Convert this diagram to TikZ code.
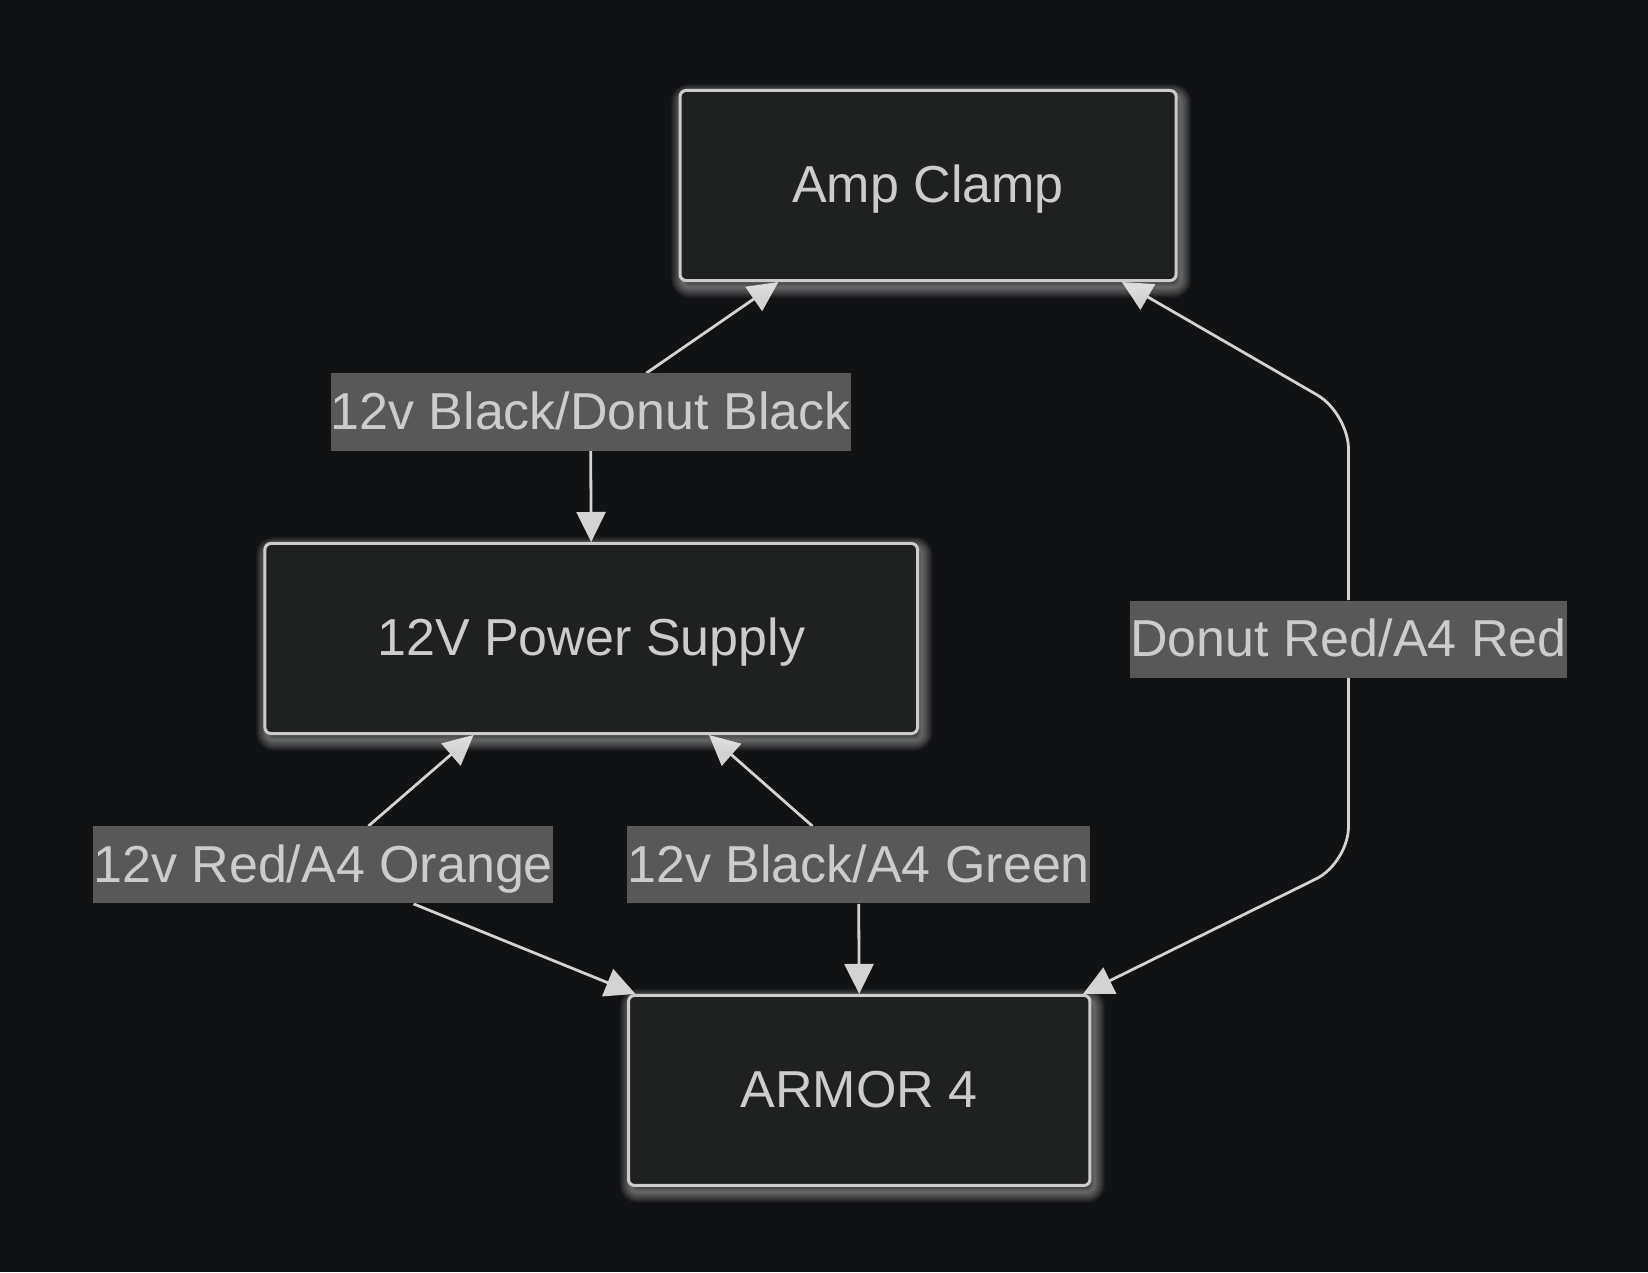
\documentclass[tikz,border=0pt]{standalone}
\usepackage{fontspec}
\setmainfont{Liberation Sans}
\usetikzlibrary{arrows.meta,calc}
\pgfdeclarelayer{bglayer}
\pgfdeclarelayer{edgelayer}
\pgfdeclarelayer{glowlayer}
\pgfsetlayers{bglayer,edgelayer,glowlayer,main}
\definecolor{bgcol}{HTML}{111214}
\definecolor{nodefill}{HTML}{1F2020}
\definecolor{nodeline}{HTML}{CCCCCC}
\definecolor{txt}{HTML}{CCCCCC}
\definecolor{lblbg}{HTML}{585858}
\definecolor{edgecol}{HTML}{D3D3D3}
\begin{document}
\begin{tikzpicture}[x=0.5255pt,y=-0.5255pt,
  every node/.style={font=\fontsize{26pt}{31pt}\selectfont, text=txt, text height=23.2pt, text depth=5.8pt},
  box/.style={draw=nodeline, fill=nodefill, line width=1.5pt, rounded corners=3pt, minimum height=95pt, inner sep=0pt},
  lbl/.style={fill=lblbg, inner xsep=0pt, inner ysep=0pt, minimum height=38.5pt},
  wire/.style={draw=edgecol, line width=1.4pt},
  arr/.style={wire, -{Triangle[length=15pt,width=14.5pt]}},
  glowline/.style={white, opacity=0.045, rounded corners=4pt}]
\begin{pgfonlayer}{bglayer}
  \fill[bgcol] (0,0) rectangle (1568,1210.3);
\end{pgfonlayer}
\useasboundingbox (0,0) rectangle (1568,1210.3);

\node[box, minimum width=248pt] (amp) at (883,176.5) {Amp Clamp};
\node[box, minimum width=326.3pt] (ps) at (562.5,607.5) {12V Power Supply};
\node[box, minimum width=230.7pt] (armor) at (817.5,1037.5) {ARMOR 4};
\node[lbl] (l1) at (562,392) {12v Black/Donut Black};
\node[lbl] (l2) at (1283,608) {Donut Red/A4 Red};
\node[lbl] (l3) at (307.5,823) {12v Red/A4 Orange};
\node[lbl] (l4) at (817,823) {12v Black/A4 Green};

\begin{pgfonlayer}{glowlayer}
  \foreach \n in {amp,ps,armor}{
    \foreach \w in {2,4,...,20}{
      \draw[glowline, line width=\w*0.5255pt] ($(\n.south west)+(3,5)$) rectangle ($(\n.north east)+(3,5)$);
    }
  }
\end{pgfonlayer}

\begin{pgfonlayer}{edgelayer}
  \draw[arr] ($(l1.north)+(53,0)$) -- ($(amp.south west)+(95,0)$);
  \draw[arr] (l1.south) -- (ps.north);
  \draw[arr, rounded corners=18pt] (l2.north) -- (1283,393) -- ($(amp.south east)+(-53,0)$);
  \draw[arr, rounded corners=18pt] (l2.south) -- (1283,821) -- ($(armor.north east)+(-8,0)$);
  \draw[arr] ($(l3.north)+(43,0)$) -- ($(ps.south west)+(200,0)$);
  \draw[arr] ($(l3.south)+(86,0)$) -- ($(armor.north west)+(8,0)$);
  \draw[arr] ($(l4.north)+(-44,0)$) -- ($(ps.south west)+(424,0)$);
  \draw[arr] (l4.south) -- (armor.north);
\end{pgfonlayer}
\end{tikzpicture}
\end{document}
